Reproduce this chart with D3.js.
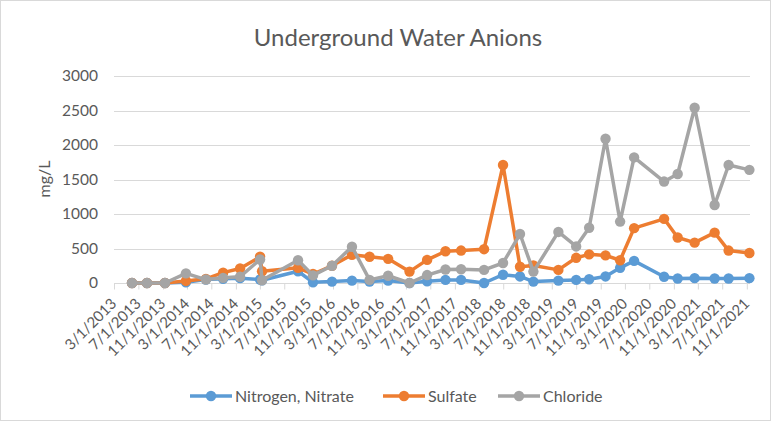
<!DOCTYPE html> <meta charset="utf-8" />
<style>
    body {
        margin: 0;
        background: #fff;
    }

    text {
        font-family: Lato, 'Open Sans', sans-serif;
        fill: #595959;
    }

    .grid line {
        stroke: #d9d9d9;
        stroke-width: 1;
    }

    .axis--x path,
    .axis--x line {
        stroke: #d9d9d9;
    }

    .series path {
        fill: none;
        stroke-width: 3.5;
        stroke-linejoin: round;
    }
</style>

<svg width="776" height="423"></svg>

<script src="https://d3js.org/d3.v7.min.js"></script>
<script>
    // sample dates
    const dates = [
        '2013-05-30', '2013-08-13', '2013-11-11', '2014-02-24', '2014-06-04', '2014-08-29', '2014-11-22',
        '2015-03-02', '2015-03-12', '2015-09-08', '2015-11-22', '2016-02-25', '2016-06-04', '2016-08-31',
        '2016-12-02', '2017-03-19', '2017-06-15', '2017-09-15', '2017-12-02', '2018-03-27', '2018-06-30',
        '2018-09-23', '2018-11-29', '2019-04-03', '2019-07-01', '2019-09-04', '2019-11-25', '2020-02-06',
        '2020-04-16', '2020-09-13', '2020-11-20', '2021-02-13', '2021-05-24', '2021-08-02', '2021-11-14',
    ];

    const nitrate = [
        0, 0, 0, 10, 50, 60, 70, 50, 40, 170, 10, 20, 35, 20, 35, 0, 25, 45, 45, 0, 120, 95, 20, 35, 45, 55,
        95, 220, 320, 90, 65, 70, 65, 65, 70,
    ];

    const sulfate = [
        0, 0, 0, 30, 60, 150, 210, 380, 170, 220, 130, 250, 410, 380, 350, 165, 335, 460, 470, 490, 1710,
        235, 255, 190, 365, 415, 400, 330, 795, 930, 660, 585, 730, 470, 435,
    ];

    const chloride = [
        0, 0, 0, 140, 50, 75, 90, 340, 40, 330, 110, 250, 525, 45, 105, 0, 115, 195, 200, 190, 290, 710,
        165, 740, 530, 800, 2090, 890, 1820, 1470, 1580, 2540, 1130, 1710, 1640,
    ];

    const seriesNames = ['Nitrogen, Nitrate', 'Sulfate', 'Chloride'];
    const seriesColors = ['#5b9bd5', '#ed7d31', '#a5a5a5'];

    const yTicks = [0, 500, 1000, 1500, 2000, 2500, 3000];

    const xTickLabels = [
        '3/1/2013', '7/1/2013', '11/1/2013', '3/1/2014', '7/1/2014', '11/1/2014', '3/1/2015', '7/1/2015',
        '11/1/2015', '3/1/2016', '7/1/2016', '11/1/2016', '3/1/2017', '7/1/2017', '11/1/2017', '3/1/2018',
        '7/1/2018', '11/1/2018', '3/1/2019', '7/1/2019', '11/1/2019', '3/1/2020', '7/1/2020', '11/1/2020',
        '3/1/2021', '7/1/2021', '11/1/2021',
    ];

    function draw() {
        const svg = d3.select('svg');

        const parseDate = d3.timeParse('%Y-%m-%d');
        const parseTick = d3.timeParse('%m/%d/%Y');

        const plot = { left: 114, right: 750, top: 76, bottom: 283 };

        const x = d3
            .scaleTime()
            .domain([parseTick('3/1/2013'), parseDate('2021-11-17')])
            .range([plot.left, plot.right]);

        const y = d3
            .scaleLinear()
            .domain([0, 3000])
            .range([plot.bottom, plot.top]);

        // chart border
        svg.append('rect')
            .attr('x', 0.5)
            .attr('y', 0.5)
            .attr('width', 770)
            .attr('height', 420)
            .attr('fill', 'none')
            .attr('stroke', '#d9d9d9');

        svg.append('text')
            .attr('x', 398)
            .attr('y', 46)
            .attr('text-anchor', 'middle')
            .style('font-size', '24px')
            .text('Underground Water Anions');

        // gridlines
        svg.append('g')
            .attr('class', 'grid')
            .selectAll('line')
            .data(yTicks.filter(d => d > 0))
            .enter()
            .append('line')
            .attr('x1', plot.left)
            .attr('x2', plot.right)
            .attr('y1', d => Math.round(y(d)) + 0.5)
            .attr('y2', d => Math.round(y(d)) + 0.5);

        svg.append('g')
            .selectAll('text')
            .data(yTicks)
            .enter()
            .append('text')
            .attr('x', 98)
            .attr('y', d => y(d))
            .attr('dy', '0.35em')
            .attr('text-anchor', 'end')
            .style('font-size', '15.5px')
            .text(d => d);

        svg.append('text')
            .attr('transform', 'translate(50,179) rotate(-90)')
            .attr('text-anchor', 'middle')
            .style('font-size', '16px')
            .text('mg/L');

        // date axis
        const tickDates = xTickLabels.map(parseTick);
        const xAxis = svg
            .append('g')
            .attr('class', 'axis axis--x')
            .attr('transform', `translate(0,${Math.round(y(0)) + 0.5})`)
            .call(
                d3
                    .axisBottom(x)
                    .tickValues(tickDates)
                    .tickSize(6)
                    .tickFormat((d, i) => xTickLabels[i]),
            );
        xAxis.select('.domain').attr('d', `M${plot.left},0H${plot.right}`).attr('stroke-width', 1);
        xAxis.selectAll('text')
            .style('font-size', '15px')
            .style('text-anchor', 'end')
            .attr('fill', '#595959')
            .attr('x', 0)
            .attr('y', 0)
            .attr('dy', 0)
            .attr('transform', 'translate(3,21) rotate(-45)');

        const series = [nitrate, sulfate, chloride].map((values, i) => ({
            name: seriesNames[i],
            color: seriesColors[i],
            points: values.map((v, j) => ({ date: parseDate(dates[j]), value: v })),
        }));

        const line = d3
            .line()
            .x(d => x(d.date))
            .y(d => y(d.value));

        const g = svg
            .selectAll('.series')
            .data(series)
            .enter()
            .append('g')
            .attr('class', 'series');

        g.append('path')
            .attr('d', d => line(d.points))
            .attr('stroke', d => d.color);

        g.each(function (s) {
            d3.select(this)
                .selectAll('circle')
                .data(s.points)
                .enter()
                .append('circle')
                .attr('cx', d => x(d.date))
                .attr('cy', d => y(d.value))
                .attr('r', 5.2)
                .attr('fill', s.color);
        });

        // legend
        const legendX = [190, 383, 498];
        const legend = svg
            .selectAll('.legend')
            .data(series)
            .enter()
            .append('g')
            .attr('class', 'legend')
            .attr('transform', (d, i) => `translate(${legendX[i]},396)`);

        legend.append('line')
            .attr('x1', 0)
            .attr('x2', 42)
            .attr('stroke', d => d.color)
            .attr('stroke-width', 3.5);

        legend.append('circle')
            .attr('cx', 21)
            .attr('r', 5.2)
            .attr('fill', d => d.color);

        legend.append('text')
            .attr('x', 45)
            .attr('dy', '0.35em')
            .style('font-size', '16px')
            .text(d => d.name);
    }

    draw();
</script>
